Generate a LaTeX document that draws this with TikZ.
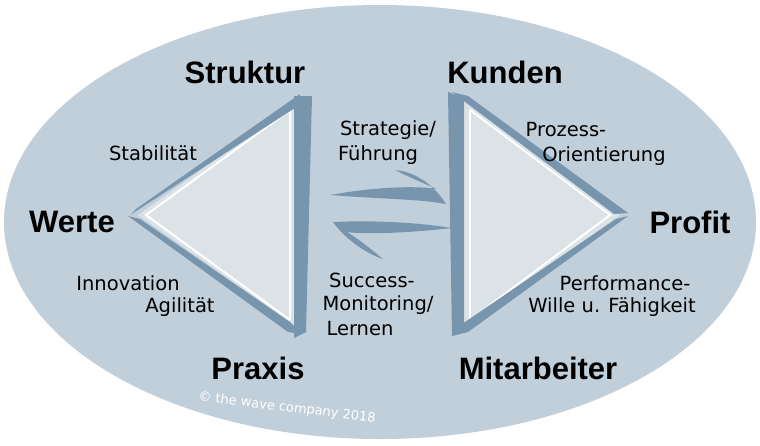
\documentclass[tikz,border=0pt]{standalone}
\usepackage{fontspec}
\setmainfont{Liberation Sans}
\newfontfamily\labfont{DejaVu Sans}
\begin{document}
\begin{tikzpicture}[x=1pt,y=-1pt,
  big/.style={font=\bfseries\fontsize{31}{33}\selectfont},
  lab/.style={font=\labfont\fontsize{19.5}{21}\selectfont},
  inner/.style={draw=white,line width=2pt}]
\definecolor{ell}{HTML}{C1CFDB}
\definecolor{blueE}{HTML}{7795AC}
\definecolor{tri}{HTML}{DCE3E6}
\useasboundingbox (0,0) rectangle (760,445);
\fill[white] (0,0) rectangle (760,445);
\fill[ell] (380,222) ellipse [x radius=376, y radius=217];
% left triangle
\fill[tri] (296,102) -- (138,215) -- (296,326) -- cycle;
\draw[inner] (290,110) -- (146,215) -- (290,320);
\draw[inner] (290,110) -- (290,320);
\fill[blueE] (294,96) -- (312,96) -- (306,332) -- (294,338) -- cycle;
\fill[blueE] (300,94) -- (298,106) -- (130,215) -- (136,209) -- cycle;
\fill[blueE] (128,216) -- (140,219) -- (290,322) -- (302,334) -- (288,332) -- cycle;
% right triangle
\fill[tri] (464,102) -- (620,215) -- (464,326) -- cycle;
\draw[inner] (470,110) -- (610,215) -- (470,320);
\draw[inner] (470,110) -- (470,320);
\fill[blueE] (448,92) -- (464,98) -- (464,330) -- (452,336) -- cycle;
\fill[blueE] (452,92) -- (468,96) -- (628,213) -- (614,214) -- cycle;
\fill[blueE] (628,216) -- (616,219) -- (462,324) -- (452,336) -- (468,332) -- cycle;
% harpoons
\fill[blueE] (330,195) .. controls (380,186) and (420,186) .. (437,189)
  .. controls (420,182) and (405,175) .. (395,170)
  .. controls (418,172) and (436,188) .. (446,204)
  .. controls (420,199) and (380,199) .. (330,195) -- cycle;
\fill[blueE] (452,228) .. controls (400,234) and (360,234) .. (347,232)
  .. controls (360,240) and (372,250) .. (383,259)
  .. controls (362,252) and (343,236) .. (333,222)
  .. controls (380,220) and (420,223) .. (452,228) -- cycle;
% texts
\node[big] (struktur) at (245,72) {Struktur};
\node[big] (kunden) at (505,72) {Kunden};
\node[big] (werte) at (72,222) {Werte};
\node[big] (profit) at (690,222) {Profit};
\node[big] (praxis) at (258,368) {Praxis};
\node[big] (mitarb) at (538,368) {Mitarbeiter};
\node[lab] (stab) at (153,153) {Stabilität};
\node[lab] (innov) at (128,283) {Innovation};
\node[lab] (agil) at (180,307) {Agilität};
\node[lab] (strat) at (388,130) {Strategie/};
\node[lab] (fuehr) at (378,155) {Führung};
\node[lab] (proz) at (566,130) {Prozess-};
\node[lab] (orient) at (604,156) {Orientierung};
\node[lab] (succ) at (372,280) {Success-};
\node[lab] (monit) at (378,305) {Monitoring/};
\node[lab] (lern) at (360,329) {Lernen};
\node[lab] (perf) at (625,283) {Performance-};
\node[lab] (wille) at (612,307) {Wille u. Fähigkeit};
\node[white,font=\labfont\fontsize{13}{14}\selectfont,rotate=-7] (copy) at (287,408) {© the wave company 2018};
\end{tikzpicture}
\end{document}
